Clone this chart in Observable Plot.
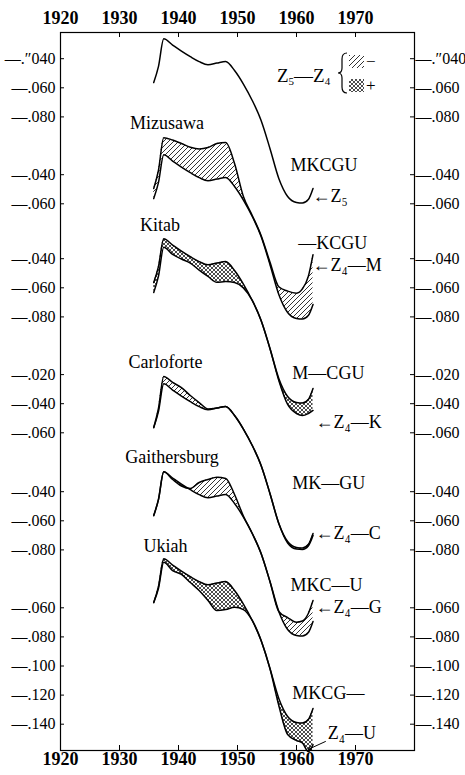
<!DOCTYPE html>
<html><head><meta charset="utf-8">
<script src="https://cdn.jsdelivr.net/npm/d3@7"></script>
<script src="https://cdn.jsdelivr.net/npm/@observablehq/plot@0.6"></script>
<style>
body{margin:0;background:#fff;}
svg{display:block;}
</style>
</head><body><div id="chart"></div>
<script>
// ---------------- DATA ----------------
const years = [1935.8, 1936.6, 1937.5, 1939, 1940.5, 1942, 1943.5, 1945, 1946.5, 1948, 1949.5, 1951, 1952.5, 1954, 1955.5, 1957, 1958.5, 1960, 1961, 1962, 1962.8];
const z5  = [-.0564,-.0454,-.0263,-.0306,-.0348,-.0386,-.0420,-.0442,-.0430,-.0419,-.0481,-.0574,-.0687,-.0825,-.1017,-.1223,-.1347,-.1388,-.1392,-.1368,-.1292];
const z4M = [-.0495,-.0371,-.0146,-.0162,-.0186,-.0211,-.0223,-.0213,-.0186,-.0179,-.0323,-.0550,-.0680,-.0818,-.1000,-.1170,-.1200,-.1214,-.1185,-.1100,-.0950];
const z4K = [-.0632,-.0522,-.0321,-.0371,-.0402,-.0430,-.0478,-.0522,-.0562,-.0557,-.0564,-.0601,-.0687,-.0825,-.1017,-.1237,-.1402,-.1464,-.1478,-.1464,-.1443];
const z4C = [-.0564,-.0433,-.0213,-.0254,-.0289,-.0344,-.0392,-.0436,-.0430,-.0419,-.0481,-.0574,-.0687,-.0825,-.1017,-.1223,-.1357,-.1399,-.1402,-.1378,-.1306];
const z4G = [-.0564,-.0454,-.0263,-.0316,-.0361,-.0378,-.0337,-.0316,-.0300,-.0309,-.0419,-.0567,-.0687,-.0825,-.1017,-.1223,-.1265,-.1297,-.1289,-.1237,-.1148];
const z4U = [-.0564,-.0467,-.0287,-.0344,-.0371,-.0426,-.0481,-.0550,-.0619,-.0612,-.0596,-.0612,-.0687,-.0825,-.1017,-.1271,-.1471,-.1512,-.1529,-.1588,-.1540];

const stations = ["Mizusawa", "Kitab", "Carloforte", "Gaithersburg", "Ukiah"];
const stationSeries = [z4M, z4K, z4C, z4G, z4U];
const combos = ["MKCGU", "—KCGU", "M—CGU", "MK—GU", "MKC—U", "MKCG—"];
const curveNames = ["←Z₅", "←Z₄—M", "←Z₄—K", "←Z₄—C", "←Z₄—G", "Z₄—U"];

const xTicks = [1920, 1930, 1940, 1950, 1960, 1970];
const panelTicks = [
  [-.04, -.06, -.08],
  [-.04, -.06],
  [-.04, -.06, -.08],
  [-.02, -.04, -.06],
  [-.04, -.06, -.08],
  [-.06, -.08, -.10, -.12, -.14]
];
const panelTickLabels = [
  ["—.″040", "—.060", "—.080"],
  ["—.040", "—.060"],
  ["—.040", "—.060", "—.080"],
  ["—.020", "—.040", "—.060"],
  ["—.040", "—.060", "—.080"],
  ["—.060", "—.080", "—.100", "—.120", "—.140"]
];

// ---------------- LAYOUT ----------------
const pxPerUnit = 1455;                       // vertical scale: pixels per arc-second
const panelShiftPx = [0, 116, 200, 345, 433, 520];
const shift = panelShiftPx.map(p => p / pxPerUnit);
const xDomain = [1920, 1980];
const yDomain = [-750 / pxPerUnit, -32 / pxPerUnit];
const tickLenX = 4 / 5.9;                     // years
const tickLenY = 5 / pxPerUnit;

// label anchors (year, value relative to its panel)
const stationLabelPos = [[1938.05, -0.0048], [1936.86, -0.0172], [1937.8, -0.0117], [1938.9, -0.0165], [1937.8, -0.0179]];
const comboLabelPos = [[1959.0, -0.1131], [1960.3, -0.0869], [1959.3, -0.1186], [1959.3, -0.0945], [1959.0, -0.1041], [1959.3, -0.1186]];
const nameLabelPos = [[1962.7, -0.1347], [1962.7, -0.1024], [1963.2, -0.1522], [1963.2, -0.1292], [1963.2, -0.1196], [1965.3, -0.1464]];
const ukiahArrowFrom = [1964.9, -0.1519];
const ukiahArrowToIndex = 19;

// ---------------- BUILD ROWS ----------------
const z5Rows = [];
for (let p = 0; p < 6; p++) years.forEach((yr, i) => z5Rows.push({panel: p, year: yr, v: z5[i] - shift[p]}));
const z4Rows = [];
stationSeries.forEach((s, k) => years.forEach((yr, i) => {
  const p = k + 1;
  z4Rows.push({panel: p, year: yr, v: s[i] - shift[p], z5: z5[i] - shift[p]});
}));
const tickRows = [];
panelTicks.forEach((ts, p) => ts.forEach((t, j) => tickRows.push({y: t - shift[p], label: panelTickLabels[p][j]})));
const stationLabels = stations.map((s, k) => ({text: s, x: stationLabelPos[k][0], y: stationLabelPos[k][1] - shift[k + 1]}));
const comboLabels = combos.map((c, k) => ({text: c, x: comboLabelPos[k][0], y: comboLabelPos[k][1] - shift[k]}));
const nameLabels = curveNames.map((c, k) => ({text: c, x: nameLabelPos[k][0], y: nameLabelPos[k][1] - shift[k]}));
const arrowRows = [{
  x1: ukiahArrowFrom[0], y1: ukiahArrowFrom[1] - shift[5],
  x2: years[ukiahArrowToIndex], y2: z4U[ukiahArrowToIndex] - shift[5] + 0.0015
}];

const curve = "monotone-x";
const chart = Plot.plot({
  width: 465, height: 775,
  marginLeft: 60, marginRight: 51, marginTop: 32, marginBottom: 25,
  x: {domain: xDomain, axis: null},
  y: {domain: yDomain, axis: null},
  style: {fontFamily: "'Liberation Serif', 'DejaVu Serif', serif", background: "white", color: "black"},
  marks: [
    Plot.areaY(z4Rows, {x: "year", y1: "z5", y2: d => Math.max(d.v, d.z5), z: "panel", fill: "url(#hatch)", curve}),
    Plot.areaY(z4Rows, {x: "year", y1: "z5", y2: d => Math.min(d.v, d.z5), z: "panel", fill: "url(#cross)", curve}),
    Plot.line(z5Rows, {x: "year", y: "v", z: "panel", stroke: "black", strokeWidth: 1.5, curve}),
    Plot.line(z4Rows, {x: "year", y: "v", z: "panel", stroke: "black", strokeWidth: 1.5, curve}),
    Plot.frame({stroke: "black", strokeWidth: 1.2}),
    // inward ticks
    Plot.ruleY(tickRows, {y: "y", x1: xDomain[0], x2: xDomain[0] + tickLenX, stroke: "black"}),
    Plot.ruleY(tickRows, {y: "y", x1: xDomain[1], x2: xDomain[1] - tickLenX, stroke: "black"}),
    Plot.ruleX(xTicks.slice(1), {x: d => d, y1: yDomain[1], y2: yDomain[1] - tickLenY, stroke: "black"}),
    Plot.ruleX(xTicks.slice(1), {x: d => d, y1: yDomain[0], y2: yDomain[0] + tickLenY, stroke: "black"}),
    // tick labels
    Plot.text(tickRows, {y: "y", text: "label", frameAnchor: "left", textAnchor: "end", dx: -5, fontSize: 16, fill: "black", ariaLabel: "ticklabel"}),
    Plot.text(tickRows, {y: "y", text: "label", frameAnchor: "right", textAnchor: "start", dx: 1, fontSize: 16, fill: "black", ariaLabel: "ticklabel"}),
    Plot.text(xTicks, {x: d => d, text: d => String(d), frameAnchor: "top", lineAnchor: "bottom", dy: -9, fontSize: 18, fontWeight: "bold", fill: "black"}),
    Plot.text(xTicks, {x: d => d, text: d => String(d), frameAnchor: "bottom", lineAnchor: "top", dy: 2, fontSize: 18, fontWeight: "bold", fill: "black"}),
    // annotations
    Plot.text(stationLabels, {x: "x", y: "y", text: "text", fontSize: 18, textAnchor: "middle", fill: "black", ariaLabel: "station"}),
    Plot.text(comboLabels, {x: "x", y: "y", text: "text", fontSize: 18, textAnchor: "start", fill: "black", ariaLabel: "combo"}),
    Plot.text(nameLabels, {x: "x", y: "y", text: "text", fontSize: 18, textAnchor: "start", fill: "black", ariaLabel: "curvename"}),
    Plot.arrow(arrowRows, {x1: "x1", y1: "y1", x2: "x2", y2: "y2", stroke: "black", strokeWidth: 1, headLength: 5, bend: false})
  ]
});
document.getElementById("chart").appendChild(chart);

const svg = d3.select(chart);
svg.selectAll('g[aria-label="station"] text').attr("letter-spacing", "1.6px");
svg.selectAll('g[aria-label="ticklabel"] text').attr("letter-spacing", "1.1px");
svg.selectAll('g[aria-label="combo"] text').attr("letter-spacing", "0.5px");

// patterns
const defs = svg.insert("defs", ":first-child");
defs.append("pattern").attr("id", "hatch").attr("patternUnits", "userSpaceOnUse").attr("width", 5).attr("height", 5)
  .append("path").attr("d", "M-1,1L1,-1M0,5L5,0M4,6L6,4").attr("stroke", "#000").attr("stroke-width", 0.8);
defs.append("pattern").attr("id", "cross").attr("patternUnits", "userSpaceOnUse").attr("width", 4).attr("height", 4)
  .append("path").attr("d", "M-1,1L1,-1M0,4L4,0M3,5L5,3M-1,3L1,5M0,0L4,4M3,-1L5,1").attr("stroke", "#000").attr("stroke-width", 0.7);

// legend  Z5 − Z4 { hatched −, cross-hatched + }
const lg = svg.append("g").attr("font-family", "'Liberation Serif', 'DejaVu Serif', serif")
  .attr("fill", "#000").attr("text-anchor", "start");
const t = lg.append("text").attr("x", 277).attr("y", 82).attr("font-size", 19).attr("fill", "#000");
t.append("tspan").text("Z");
t.append("tspan").attr("font-size", 11).attr("dy", 3).text("5");
t.append("tspan").attr("dy", -3).text("—Z");
t.append("tspan").attr("font-size", 11).attr("dy", 3).text("4");
lg.append("path").attr("d", "M347,53 Q342,53 342,59 L342,68 Q342,73 338,73 Q342,73 342,78 L342,87 Q342,93 347,93")
  .attr("fill", "none").attr("stroke", "#000").attr("stroke-width", 1.2);
lg.append("rect").attr("x", 349).attr("y", 55).attr("width", 15).attr("height", 13).attr("fill", "url(#hatch)");
lg.append("rect").attr("x", 349).attr("y", 79).attr("width", 15).attr("height", 13).attr("fill", "url(#cross)");
lg.append("text").attr("x", 366).attr("y", 67).attr("font-size", 17).attr("fill", "#000").text("−");
lg.append("text").attr("x", 366).attr("y", 91).attr("font-size", 17).attr("fill", "#000").text("+");
</script>
</body></html>
